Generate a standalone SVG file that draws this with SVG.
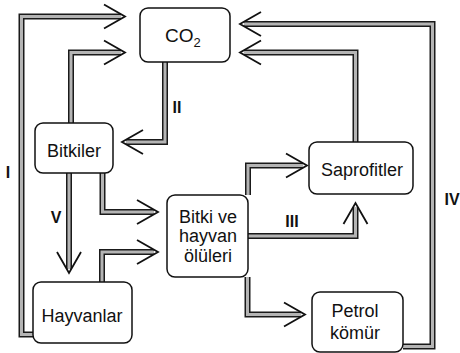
<svg xmlns="http://www.w3.org/2000/svg" width="460" height="353" viewBox="0 0 460 353">
<defs>
<style>
.box{fill:#fff;stroke:#111;stroke-width:1.5}
.t{font-family:"Liberation Sans",Arial,sans-serif;font-size:18px;fill:#111;text-anchor:middle}
.lbl{font-family:"Liberation Sans",Arial,sans-serif;font-size:16px;font-weight:bold;fill:#111;text-anchor:middle}
.o{fill:none;stroke:#1a1a1a;stroke-width:6;stroke-linejoin:miter}
.i{fill:none;stroke:#b4b4b4;stroke-width:3;stroke-linejoin:miter;marker-end:url(#chev)}
</style>
<marker id="chev" markerUnits="userSpaceOnUse" viewBox="-24 -15 30 30" markerWidth="30" markerHeight="30" refX="0" refY="0" orient="auto">
<path d="M -17 -12 L 4 0 L -17 12" fill="none" stroke="#111" stroke-width="1.8"/>
</marker>
</defs>
<g id="connectors">
<g id="arrow-I"><path class="o" d="M 33 334.5 L 21.5 334.5 L 21.5 16.5 L 121 16.5"/><path class="i" d="M 33 334.5 L 21.5 334.5 L 21.5 16.5 L 121 16.5"/></g>
<g id="arrow-bitkiler-co2"><path class="o" d="M 71 123 L 71 52.5 L 121 52.5"/><path class="i" d="M 71 123 L 71 52.5 L 121 52.5"/></g>
<g id="arrow-II"><path class="o" d="M 165 62 L 165 142 L 126 142"/><path class="i" d="M 165 62 L 165 142 L 126 142"/></g>
<g id="arrow-V"><path class="o" d="M 69 173 L 69 269"/><path class="i" d="M 69 173 L 69 269"/></g>
<g id="arrow-bitkiler-oluler"><path class="o" d="M 102.5 173 L 102.5 212 L 154 212"/><path class="i" d="M 102.5 173 L 102.5 212 L 154 212"/></g>
<g id="arrow-hayvanlar-oluler"><path class="o" d="M 102 282 L 102 252 L 154 252"/><path class="i" d="M 102 282 L 102 252 L 154 252"/></g>
<g id="arrow-oluler-saprofitler"><path class="o" d="M 248 195 L 248 165.5 L 303 165.5"/><path class="i" d="M 248 195 L 248 165.5 L 303 165.5"/></g>
<g id="arrow-III"><path class="o" d="M 248 236 L 355.5 236 L 355.5 207"/><path class="i" d="M 248 236 L 355.5 236 L 355.5 207"/></g>
<g id="arrow-oluler-petrol"><path class="o" d="M 247.5 277 L 247.5 314.5 L 301 314.5"/><path class="i" d="M 247.5 277 L 247.5 314.5 L 301 314.5"/></g>
<g id="arrow-IV"><path class="o" d="M 403 346.5 L 432.5 346.5 L 432.5 24 L 244 24"/><path class="i" d="M 403 346.5 L 432.5 346.5 L 432.5 24 L 244 24"/></g>
<g id="arrow-saprofitler-co2"><path class="o" d="M 355.5 142 L 355.5 52.5 L 244 52.5"/><path class="i" d="M 355.5 142 L 355.5 52.5 L 244 52.5"/></g>
</g>
<g id="node-co2"><rect class="box" x="140" y="8" width="90" height="54" rx="8"/><text class="t" x="165" y="42" style="text-anchor:start;font-size:19px">CO<tspan font-size="13" dy="5">2</tspan></text></g>
<g id="node-bitkiler"><rect class="box" x="35" y="123" width="78" height="50" rx="8"/><text class="t" x="74" y="157">Bitkiler</text></g>
<g id="node-hayvanlar"><rect class="box" x="33" y="282" width="99" height="61" rx="8"/><text class="t" x="82" y="322">Hayvanlar</text></g>
<g id="node-oluler"><rect class="box" x="167" y="195" width="81" height="82" rx="8"/><text class="t" x="208" y="223">Bitki ve</text><text class="t" x="208" y="242">hayvan</text><text class="t" x="208" y="262">ölüleri</text></g>
<g id="node-saprofitler"><rect class="box" x="309" y="142" width="104" height="52" rx="8"/><text class="t" x="362" y="176">Saprofitler</text></g>
<g id="node-petrol"><rect class="box" x="312" y="292" width="91" height="60" rx="8"/><text class="t" x="355" y="317">Petrol</text><text class="t" x="355" y="339">kömür</text></g>
<g id="labels">
<text class="lbl" x="8" y="178">I</text>
<text class="lbl" x="177" y="113">II</text>
<text class="lbl" x="292" y="227">III</text>
<text class="lbl" x="452" y="205">IV</text>
<text class="lbl" x="56" y="223">V</text>
</g>
</svg>
